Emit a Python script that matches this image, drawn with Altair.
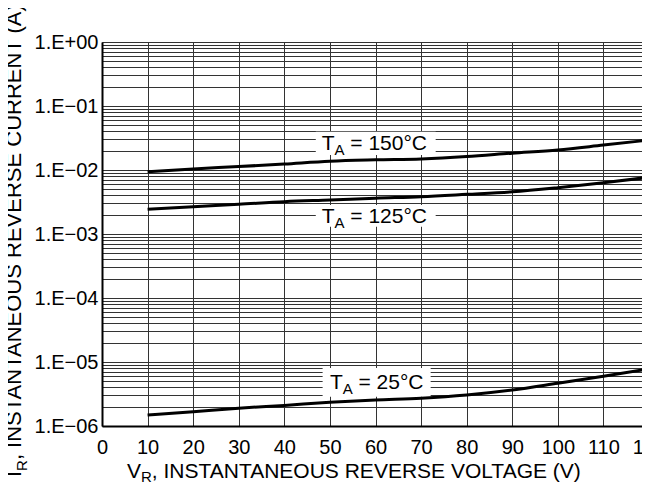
import altair as alt
import pandas as pd

# ---- data ----
voltage = [10, 20, 30, 40, 50, 60, 70, 80, 90, 100, 110, 120]
i_150 = [0.0094, 0.0104, 0.0113, 0.0124, 0.0137, 0.0144, 0.0149, 0.0162, 0.0183, 0.0205, 0.0245, 0.0294]
i_125 = [0.00243, 0.00267, 0.00291, 0.0032, 0.0034, 0.00363, 0.00383, 0.00417, 0.00457, 0.0053, 0.0063, 0.0077]
i_25 = [1.48e-6, 1.67e-6, 1.9e-6, 2.1e-6, 2.34e-6, 2.55e-6, 2.72e-6, 3.05e-6, 3.65e-6, 4.66e-6, 6.0e-6, 7.8e-6]

x_ticks = [0, 10, 20, 30, 40, 50, 60, 70, 80, 90, 100, 110, 120]
y_grid = [k * 10.0 ** e for e in range(-6, 0) for k in range(1, 10)] + [1.0]

label_temp = ["= 150°C", "= 125°C", "= 25°C"]
label_x = [48.2, 48.2, 50.0]
label_y = [0.02053, 0.00147, 3.74e-6]
box_x1 = [46.9, 46.9, 48.4]
box_x2 = [73.2, 73.2, 72.1]
box_y1 = [0.0397, 0.00284, 8.05e-6]
box_y2 = [0.01716, 0.0013, 2.87e-6]

x_title_rest = ", INSTANTANEOUS REVERSE VOLTAGE (V)"
y_title_rest = ", INSTANTANEOUS REVERSE CURRENT (A)"
chart_title = "Characteristics"

FONT = "Liberation Sans"

# ---- tables ----
lines = pd.DataFrame({
    "x": voltage * 3,
    "y": i_150 + i_125 + i_25,
    "series": ["150"] * 12 + ["125"] * 12 + ["25"] * 12,
})
labels = pd.DataFrame({"x": label_x, "y": label_y, "rest": label_temp})
boxes = pd.DataFrame({"x": box_x1, "x2": box_x2, "y": box_y1, "y2": box_y2})
one = pd.DataFrame({"a": [0]})

X_SCALE = alt.Scale(domain=[0, 120], nice=False, zero=False)
Y_SCALE = alt.Scale(type="log", domain=[1e-6, 1], nice=False)

x_axis = alt.Axis(
    values=x_ticks, title="", grid=True, gridColor="#333", gridWidth=1,
    ticks=False, labelPadding=11, labelFontSize=20, labelColor="black",
    labelFont=FONT, domainColor="black", domainWidth=2,
    labelFlush=False, labelOverlap=False,
)
y_axis = alt.Axis(
    values=y_grid, title="", grid=True, gridColor="#333", gridWidth=1,
    ticks=False, labelPadding=4, labelFontSize=20, labelColor="black",
    labelFont=FONT, domainColor="black", domainWidth=2,
    labelFlush=False, labelOverlap=False, labelBaseline="middle",
    labelExpr="abs(log(datum.value)/LN10 - round(log(datum.value)/LN10)) < 0.001 ? ('1.E' + (datum.value > 0.5 ? '+00' : '\u22120' + round(-log(datum.value)/LN10))) : ''",
)

X = alt.X("x:Q", scale=X_SCALE, axis=x_axis)
Y = alt.Y("y:Q", scale=Y_SCALE, axis=y_axis)

curves = alt.Chart(lines).mark_line(color="black", strokeWidth=3, interpolate="monotone").encode(
    x=X, y=Y, detail="series:N"
)

rects = alt.Chart(boxes).mark_rect(color="white").encode(
    x=X, x2="x2:Q", y=Y, y2="y2:Q"
)

LBL = 21
SUB = 15
t_txt = alt.Chart(labels).mark_text(align="left", baseline="alphabetic", font=FONT, fontSize=LBL, color="black").encode(
    x=X, y=Y, text=alt.value("T")
)
a_txt = alt.Chart(labels).mark_text(align="left", baseline="alphabetic", font=FONT, fontSize=SUB, color="black", dx=12.8, dy=5).encode(
    x=X, y=Y, text=alt.value("A")
)
r_txt = alt.Chart(labels).mark_text(align="left", baseline="alphabetic", font=FONT, fontSize=LBL, color="black", dx=28.6).encode(
    x=X, y=Y, text="rest:N"
)

# x axis title with subscript
TT = 21
XTX, XTY = 25, 436
xt1 = alt.Chart(one).mark_text(align="left", baseline="alphabetic", font=FONT, fontSize=TT, color="black").encode(
    x=alt.value(XTX), y=alt.value(XTY), text=alt.value("V"))
xt2 = alt.Chart(one).mark_text(align="left", baseline="alphabetic", font=FONT, fontSize=SUB, color="black", dx=14, dy=4).encode(
    x=alt.value(XTX), y=alt.value(XTY), text=alt.value("R"))
xt3 = alt.Chart(one).mark_text(align="left", baseline="alphabetic", font=FONT, fontSize=TT, color="black", dx=24.8).encode(
    x=alt.value(XTX), y=alt.value(XTY), text=alt.value(x_title_rest))

# y axis title (rotated) with subscript
YT = 22
yt1 = alt.Chart(one).mark_text(align="left", baseline="alphabetic", font=FONT, fontSize=YT, color="black", angle=270).encode(
    x=alt.value(-81.5), y=alt.value(435), text=alt.value("I"))
yt2 = alt.Chart(one).mark_text(align="left", baseline="alphabetic", font=FONT, fontSize=SUB, color="black", angle=270, dx=6.1, dy=6).encode(
    x=alt.value(-81.5), y=alt.value(435), text=alt.value("R"))
yt3 = alt.Chart(one).mark_text(align="left", baseline="alphabetic", font=FONT, fontSize=YT, color="black", angle=270, dx=16.9).encode(
    x=alt.value(-81.5), y=alt.value(435), text=alt.value(y_title_rest))

ttl = alt.Chart(one).mark_text(align="center", baseline="alphabetic", font=FONT, fontSize=24, fontWeight="bold", color="black").encode(
    x=alt.value(258), y=alt.value(-38), text=alt.value(chart_title))

chart = alt.layer(
    rects, curves, t_txt, a_txt, r_txt, xt1, xt2, xt3, yt1, yt2, yt3, ttl
).properties(
    width=547, height=384,
    autosize=alt.AutoSizeParams(type="none"),
    padding={"left": 94, "top": 34, "right": -7, "bottom": 60},
).configure_view(strokeWidth=0).configure(background="white")

chart.save("out.html", embed_options={"renderer": "svg", "actions": False})
